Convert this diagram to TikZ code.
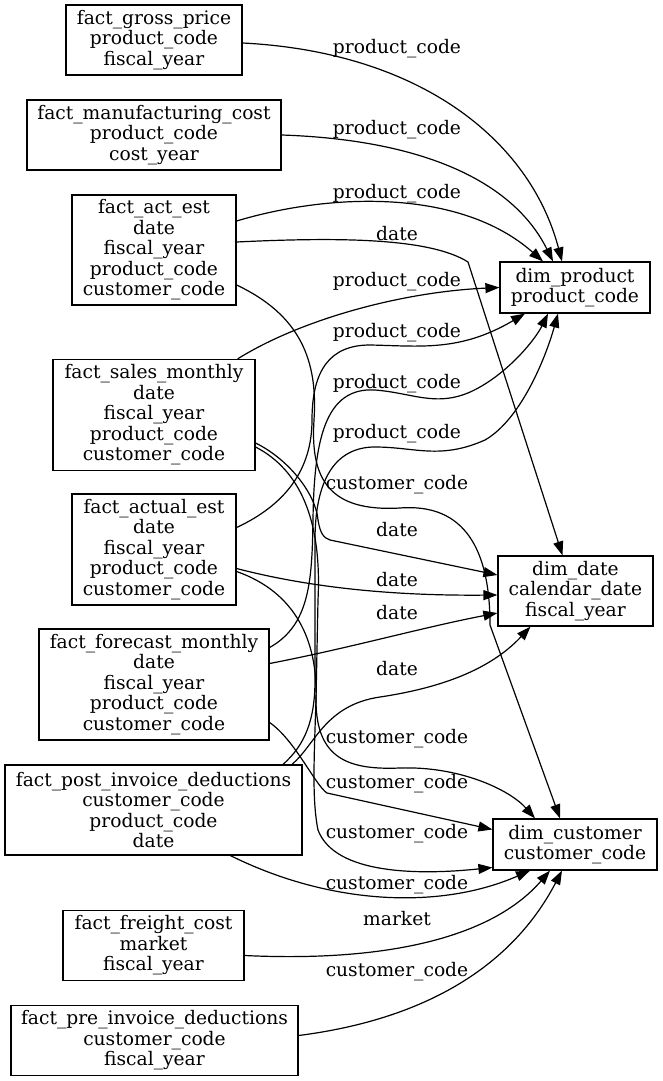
\documentclass[tikz,border=0pt]{standalone}
\usepackage{fontspec}
\setmainfont{DejaVu Serif}
\usetikzlibrary{arrows.meta,calc}
\newcommand\fsz{\fontsize{14}{15.4}\selectfont}
\begin{document}
\begin{tikzpicture}[x=0.75pt,y=-0.75pt,
  box/.style={draw, line width=0.9pt, rectangle, inner sep=0pt, align=center, font=\fsz},
  lbl/.style={inner sep=0pt, font=\fsz, yshift=-1.5pt},
  conn/.style={line width=0.9pt, -{Triangle[length=10.5pt,width=7.5pt]}}]
\useasboundingbox (0,0) rectangle (663,1081);
% fact tables
\node[box, minimum width=132pt, minimum height=52.5pt] (gp) at (154,40) {fact\_gross\_price\\product\_code\\fiscal\_year};
\node[box, minimum width=190.5pt, minimum height=52.5pt] (mc) at (154,135) {fact\_manufacturing\_cost\\product\_code\\cost\_year};
\node[box, minimum width=123pt, minimum height=82.5pt] (ae) at (154,250) {fact\_act\_est\\date\\fiscal\_year\\product\_code\\customer\_code};
\node[box, minimum width=151.5pt, minimum height=83.25pt] (sm) at (154,415) {fact\_sales\_monthly\\date\\fiscal\_year\\product\_code\\customer\_code};
\node[box, minimum width=123pt, minimum height=83.25pt] (ac) at (154,549.5) {fact\_actual\_est\\date\\fiscal\_year\\product\_code\\customer\_code};
\node[box, minimum width=172.5pt, minimum height=83.25pt] (fm) at (154,684.5) {fact\_forecast\_monthly\\date\\fiscal\_year\\product\_code\\customer\_code};
\node[box, minimum width=222.75pt, minimum height=67.5pt] (pi) at (153.5,810) {fact\_post\_invoice\_deductions\\customer\_code\\product\_code\\date};
\node[box, minimum width=135.75pt, minimum height=52.5pt] (fc) at (153.5,945.5) {fact\_freight\_cost\\market\\fiscal\_year};
\node[box, minimum width=215.25pt, minimum height=52.5pt] (pr) at (154.5,1040.5) {fact\_pre\_invoice\_deductions\\customer\_code\\fiscal\_year};
% dimension tables
\node[box, minimum width=112.5pt, minimum height=38.25pt] (dp) at (575,287.5) {dim\_product\\product\_code};
\node[box, minimum width=116.25pt, minimum height=52.5pt] (dd) at (575.5,591) {dim\_date\\calendar\_date\\fiscal\_year};
\node[box, minimum width=123pt, minimum height=38.25pt] (dc) at (575,844.5) {dim\_customer\\customer\_code};
% labels
\node[lbl] (l1) at (397,47) {product\_code};
\node[lbl] (l2) at (397,128) {product\_code};
\node[lbl] (l3) at (397,192) {product\_code};
\node[lbl] (l4) at (397,232) {date};
\node[lbl] (l5) at (397,280) {product\_code};
\node[lbl] (l6) at (397,331) {product\_code};
\node[lbl] (l7) at (397,382) {product\_code};
\node[lbl] (l8) at (397,432) {product\_code};
\node[lbl] (l9) at (397,483) {customer\_code};
\node[lbl] (l10) at (397,528) {date};
\node[lbl] (l11) at (397,578) {date};
\node[lbl] (l12) at (397,611) {date};
\node[lbl] (l13) at (397,667) {date};
\node[lbl] (l14) at (397,737) {customer\_code};
\node[lbl] (l15) at (397,782) {customer\_code};
\node[lbl] (l16) at (397,832) {customer\_code};
\node[lbl] (l17) at (397,883) {customer\_code};
\node[lbl] (l18) at (397,917) {market};
\node[lbl] (l19) at (397,970) {customer\_code};
% edges
\draw[conn] ($(gp.east)+(0,3)$) .. controls (420,52) and (530,140) .. ($(dp.north)+(-13,0)$);
\draw[conn] (mc.east) .. controls (430,140) and (515,185) .. ($(dp.north)+(-22,0)$);
\draw[conn] ($(ae.east)+(0,-29)$) .. controls (330,193) and (460,188) .. ($(dp.north)+(-32,0)$);
\draw[conn] ($(ae.east)+(0,-8)$) .. controls (340,237) and (430,238) .. (468,262) -- ($(dd.north)+(-13,0)$);
\draw[conn] ($(ae.east)+(0,35)$) .. controls (300,315) and (318,360) .. (314,420) .. controls (310,480) and (330,512) .. (400,508) .. controls (465,503) and (490,550) .. (490,625) -- ($(dc.north)+(-15,0)$);
\draw[conn] ($(sm.north east)+(-18,0)$) .. controls (300,320) and (400,292) .. (dp.west);
\draw[conn] ($(sm.east)+(0,28)$) .. controls (290,460) and (316,495) .. (318,520) .. controls (320,532) and (323,538) .. (330,540) -- ($(dd.west)+(0,-16)$);
\draw[conn] ($(sm.east)+(0,32)$) .. controls (300,470) and (322,520) .. (318,600) -- (316,700) .. controls (316,760) and (350,770) .. (400,768) .. controls (460,766) and (510,790) .. ($(dc.north)+(-40,0)$);
\draw[conn] ($(ac.east)+(0,-22)$) .. controls (285,505) and (312,470) .. (312,420) .. controls (312,370) and (330,345) .. (370,345) .. controls (420,346) and (460,352) .. ($(dp.south)+(-50,0)$);
\draw[conn] ($(fm.east)+(0,-37)$) .. controls (310,625) and (312,580) .. (313,520) .. controls (314,440) and (325,387) .. (375,390) .. controls (415,393) and (440,410) .. (480,387) .. controls (510,370) and (535,340) .. ($(dp.south)+(-27,0)$);
\draw[conn] ($(pi.north)+(129.5,0)$) .. controls (305,745) and (315,720) .. (315,680) -- (315,540) .. controls (315,480) and (335,447) .. (375,447) .. controls (415,447) and (440,460) .. (485,440) .. controls (520,420) and (545,360) .. ($(dp.south)+(-17,0)$);
\draw[conn] ($(ac.east)+(0,19)$) .. controls (300,585) and (380,596) .. ($(dd.west)+(0,4)$);
\draw[conn] ($(ac.east)+(0,22)$) .. controls (295,592) and (318,640) .. (316,700) .. controls (314,760) and (312,800) .. (318,830) .. controls (335,875) and (420,875) .. ($(dc.west)+(0,23)$);
\draw[conn] ($(fm.east)+(0,-21)$) .. controls (350,648) and (420,628) .. ($(dd.west)+(0,22)$);
\draw[conn] ($(fm.east)+(0,38)$) .. controls (295,740) and (315,785) .. (327,793) -- ($(dc.west)+(0,-15)$);
\draw[conn] ($(pi.north)+(138.5,0)$) .. controls (315,745) and (325,705) .. (380,697) .. controls (440,688) and (490,670) .. ($(dd.south)+(-45,0)$);
\draw[conn] ($(pi.south)+(77,0)$) .. controls (330,905) and (440,910) .. ($(dc.south)+(-45,0)$);
\draw[conn] ($(fc.east)+(0,10)$) .. controls (380,962) and (490,940) .. ($(dc.south)+(-25,0)$);
\draw[conn] ($(pr.east)+(0,-5)$) .. controls (420,1020) and (510,970) .. ($(dc.south)+(-13,0)$);
\end{tikzpicture}
\end{document}
